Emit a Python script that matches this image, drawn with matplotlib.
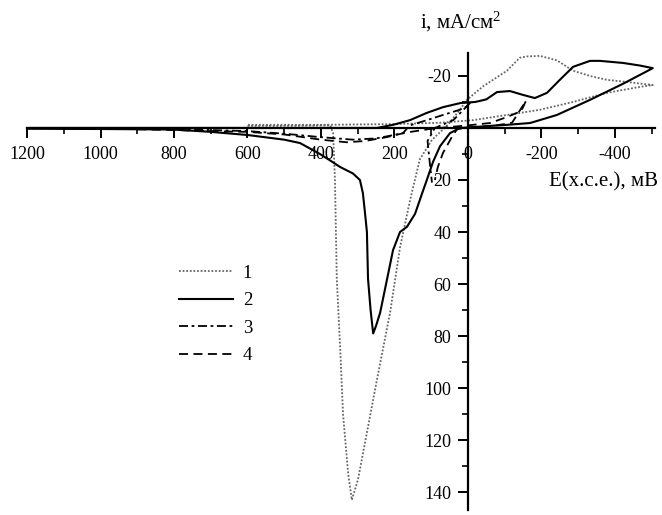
import matplotlib
matplotlib.use("Agg")
import matplotlib.pyplot as plt
from matplotlib.ticker import FixedLocator

plt.rcParams['font.family'] = ['Liberation Serif', 'DejaVu Serif']
plt.rcParams['mathtext.fontset'] = 'custom'
plt.rcParams['mathtext.rm'] = 'Liberation Serif'
plt.rcParams['mathtext.default'] = 'regular'

# Curve 1 (dotted)
E1 = [600, 500, 420, 375, 367, 362, 357, 348, 340, 326, 316, 299, 248, 212, 185, 158, 131, 98, 55, 22, 3,
      -41, -106, -141, -160, -196, -242, -286, -332, -378, -432, -503,
      -468, -378, -286, -196, -106, -14, 76, 200, 400, 600]
i1 = [-0.8, -0.8, -0.9, -1, 2, 20, 58, 84, 110, 133, 143, 135, 97, 71, 46, 28, 12, 4.6, -1.2, -7, -10.8,
      -16, -22, -27, -27.5, -27.7, -26, -22, -20, -18.5, -17.7, -16.5,
      -15.8, -13.5, -10, -7, -5, -3, -2, -1.5, -1.2, -1.2]

# Curve 2 (solid)
E2 = [1200, 1000, 800, 700, 600, 500, 457, 403, 375, 348, 313, 294, 286, 280, 275, 272, 265, 258,
      250, 239, 220, 204, 185, 166, 144, 122, 112, 95, 76, 49, 22, 0, -60, -106, -169, -242, -332, -422, -503,
      -468, -422, -359, -332, -286, -250, -215, -182, -150, -114, -79, -50, -20, 0, 20, 68, 112, 158, 204, 248,
      400, 600, 800, 1000, 1200]
i2 = [0.3, 0.4, 0.6, 1.5, 2.7, 4.5, 5.8, 10, 12.5, 15, 17.5, 20, 25, 33, 40, 58, 70, 79,
      76, 71, 58, 47, 40, 38, 33, 24, 20, 13, 7, 2, 0, -0.2, -0.8, -1.2, -1.9, -5, -10.8, -17, -23,
      -24, -25, -25.8, -25.8, -23.5, -18.5, -13.5, -11.5, -12.7, -14.2, -13.8, -11, -10, -9.8, -9.6, -8, -5.8, -3, -1.2, 0,
      0, 0, 0, 0, 0]

# Curve 3 (dash-dot)
E3 = [900, 800, 700, 600, 500, 403, 313, 250, 220, 177, 158, 112, 68, 22, 0, -5, 40, 90, 110, 105, 98]
i3 = [0.3, 0.5, 0.8, 1.2, 2.2, 3.5, 4.5, 4, 3.2, 2, -1.0, -3, -5, -7, -8.5, -9.5, -3, 0, 5, 12, 21]

# Curve 4 (dashed)
E4 = [900, 800, 700, 600, 500, 400, 330, 280, 220, 170, 100, 40, 0, -60, -106, -145, -158,
      -120, -60, 0, 30, 44, 68, 82, 90]
i4 = [0.5, 0.8, 1.2, 1.5, 2.5, 4.5, 5.5, 5, 3.5, 1.8, 0.3, -0.5, -1, -1.9, -4.2, -6.5, -10.5,
      -2, -0.6, -0.2, 0.5, 3.5, 9.6, 15, 20]

labels = ['1', '2', '3', '4']
xticks = [1200, 1000, 800, 600, 400, 200, 0, -200, -400]
yticks = [-20, 20, 40, 60, 80, 100, 120, 140]

fig = plt.figure(figsize=(6.62, 5.15), dpi=100)
ax = fig.add_axes([0, 0, 1, 1])
ax.set_xlim(1273.5, -528)
ax.set_ylim(148.8, -49.2)

l1, = ax.plot(E1, i1, color='#666666', lw=1.3, linestyle=(0, (1, 1)))
l2, = ax.plot(E2, i2, color='black', lw=1.5, linestyle='-')
l3, = ax.plot(E3, i3, color='black', lw=1.3, linestyle=(0, (5, 2, 1.5, 2)))
l4, = ax.plot(E4, i4, color='black', lw=1.3, linestyle=(0, (5, 3)))

for s in ['top', 'right']:
    ax.spines[s].set_visible(False)
ax.spines['left'].set_position(('data', 0))
ax.spines['bottom'].set_position(('data', 0))
ax.spines['left'].set_bounds(-29, 147)
ax.spines['bottom'].set_bounds(1200, -510)
ax.spines['left'].set_linewidth(1.6)
ax.spines['bottom'].set_linewidth(1.6)

ax.xaxis.set_major_locator(FixedLocator(xticks))
ax.set_xticklabels([str(v) for v in xticks])
ax.xaxis.set_minor_locator(FixedLocator(list(range(1100, -600, -200))))
ax.yaxis.set_major_locator(FixedLocator(yticks))
ax.set_yticklabels([str(v) for v in yticks])
ax.yaxis.set_minor_locator(FixedLocator([-10, 10, 30, 50, 70, 90, 110, 130]))

ax.tick_params(axis='both', which='major', direction='out', length=7, width=1.4,
               labelsize=13, color='black')
ax.tick_params(axis='both', which='minor', direction='out', length=4, width=1.2)
ax.tick_params(axis='x', which='major', pad=6)
ax.tick_params(axis='y', which='major', pad=5)

fig.text(420 / 662, 1 - 22 / 515, 'i, мА/см$^2$', fontsize=15, ha='left', va='center')
fig.text(658 / 662, 1 - 182 / 515, 'E(х.с.е.), мВ', fontsize=15, ha='right', va='center')

ax.legend([l1, l2, l3, l4], labels, loc='upper left',
          bbox_to_anchor=(162 / 662, 1 - 248 / 515), frameon=False,
          fontsize=13.5, handlelength=2.9, handletextpad=0.5, labelspacing=0.55)

fig.savefig('out.png', dpi=100)
